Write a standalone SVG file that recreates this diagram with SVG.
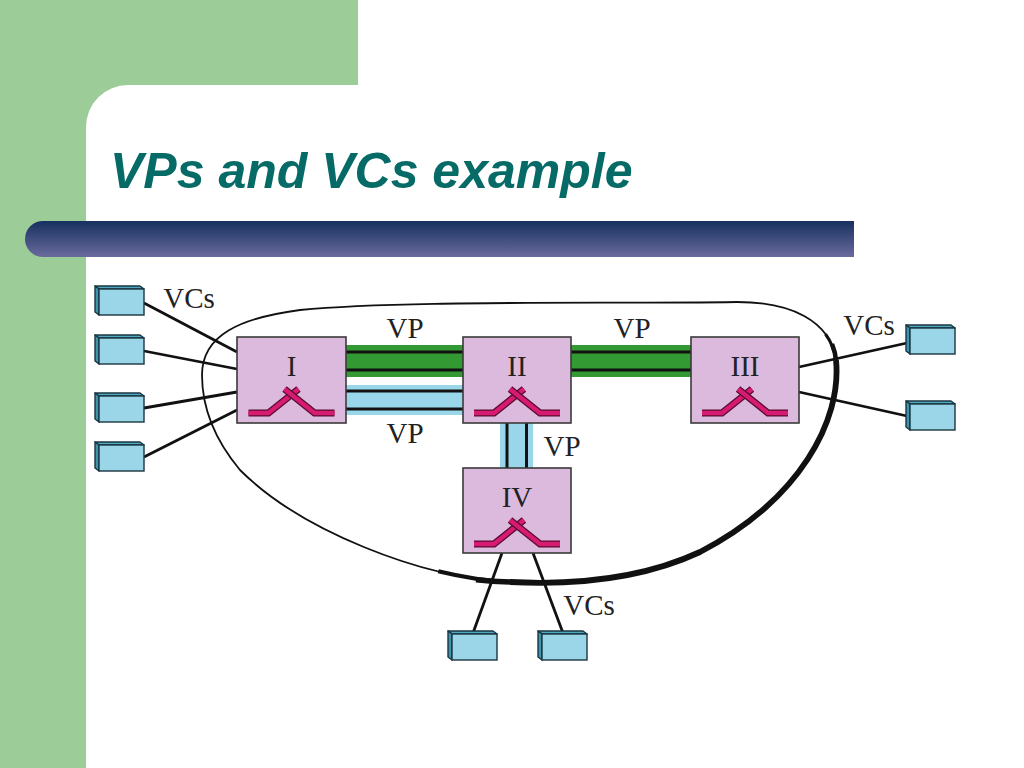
<svg xmlns="http://www.w3.org/2000/svg" xmlns:xlink="http://www.w3.org/1999/xlink" width="1024" height="768" viewBox="0 0 1024 768">
<defs>
<linearGradient id="barGrad" x1="0" y1="0" x2="0" y2="1">
<stop offset="0" stop-color="#16305f"/>
<stop offset="1" stop-color="#6a6b9d"/>
</linearGradient>
<g id="term">
<path d="M-4,-3 L41,-3 L45,0 L0,0 Z" fill="#4fa8c2" stroke="#1a3640" stroke-width="1.4" stroke-linejoin="round"/>
<path d="M-4,-3 L0,0 L0,26 L-4,23 Z" fill="#3f93ab" stroke="#1a3640" stroke-width="1.4" stroke-linejoin="round"/>
<rect x="0" y="0" width="45" height="26" fill="#9ad6e8" stroke="#1a3640" stroke-width="1.4"/>
</g>
<g id="sw">
<path d="M-43,0 H-23 L7,-24" class="swo"/>
<path d="M-43,0 H-23 L7,-24" class="swi"/>
<path d="M43,0 H23 L-7,-24" class="swo"/>
<path d="M43,0 H23 L-7,-24" class="swi"/>
</g>
</defs>
<style>
.box{fill:#dbbadd;stroke:#3a3a3a;stroke-width:1.6}
.swo{fill:none;stroke:#5a0c30;stroke-width:7;stroke-linejoin:miter}
.swi{fill:none;stroke:#d81b72;stroke-width:4.4;stroke-linejoin:miter}
.lbl{font-family:"Liberation Serif","Times New Roman",serif;font-size:29px;fill:#222;text-anchor:middle}
.wire{stroke:#111;stroke-width:2.8;fill:none}
.vpl{stroke:#111;stroke-width:3}
.cl{fill:none;stroke:#111}
</style>
<rect x="0" y="0" width="1024" height="768" fill="#ffffff"/>
<rect x="0" y="0" width="358" height="140" fill="#9ccc97"/>
<rect x="0" y="0" width="86" height="768" fill="#9ccc97"/>
<rect x="86" y="85" width="1000" height="760" rx="42" ry="42" fill="#ffffff"/>
<path d="M43,221 H854 V257 H43 A18,18 0 0 1 43,221 Z" fill="url(#barGrad)"/>
<text x="110" y="188" font-family="'Liberation Sans',Arial,sans-serif" font-size="50" font-weight="bold" font-style="italic" fill="#066b66">VPs and VCs example</text>

<g id="cloud">
<path class="cl" stroke-width="1.8" d="M202,375 C202,335 240,318 300,310 C400,300 600,304 737,302 C790,302 830,320 836,360 C842,420 800,500 700,552 C640,580 570,585 510,582 C420,578 300,530 240,470 C215,440 202,410 202,375 Z"/>
<path class="cl" stroke-width="3.2" d="M825.5,334.1 C830.9,341.4 834.5,350 836,360"/>
<path class="cl" stroke-width="4.6" d="M832,344 C834,349 835.5,354 836,360"/>
<path class="cl" stroke-width="5.8" d="M836,360 C842,420 800,500 700,552 C640,580 570,585 510,582"/>
<path class="cl" stroke-width="4.2" d="M510,582 C487.5,581 463.1,577.25 438.3,571.2"/>
<path class="cl" stroke-width="5.4" d="M512,582 C500,581.7 488,581 476,579.7"/>
</g>

<g id="connectors">
<rect x="346" y="345" width="117" height="32" fill="#339933"/>
<line x1="346" y1="352" x2="463" y2="352" class="vpl"/>
<line x1="346" y1="370" x2="463" y2="370" class="vpl"/>
<rect x="571" y="345" width="120" height="32" fill="#339933"/>
<line x1="571" y1="352" x2="691" y2="352" class="vpl"/>
<line x1="571" y1="370" x2="691" y2="370" class="vpl"/>
<rect x="346" y="385" width="117" height="30" fill="#9ad6ea"/>
<line x1="346" y1="391" x2="463" y2="391" class="vpl"/>
<line x1="346" y1="409" x2="463" y2="409" class="vpl"/>
<rect x="500" y="423" width="33" height="45" fill="#9ad6ea"/>
<line x1="507" y1="423" x2="507" y2="468" class="vpl"/>
<line x1="526.5" y1="423" x2="526.5" y2="468" class="vpl"/>
<line x1="144" y1="303" x2="237" y2="352" class="wire"/>
<line x1="144" y1="351" x2="237" y2="369" class="wire"/>
<line x1="144" y1="408" x2="237" y2="392" class="wire"/>
<line x1="144" y1="457" x2="237" y2="410" class="wire"/>
<line x1="799" y1="367" x2="907" y2="343" class="wire"/>
<line x1="799" y1="392" x2="907" y2="416" class="wire"/>
<line x1="502" y1="553" x2="473" y2="633" class="wire"/>
<line x1="533" y1="553" x2="563" y2="633" class="wire"/>
<text x="405" y="338" class="lbl">VP</text>
<text x="632" y="338" class="lbl">VP</text>
<text x="405" y="443" class="lbl">VP</text>
<text x="562" y="456" class="lbl">VP</text>
<text x="189" y="308" class="lbl">VCs</text>
<text x="869" y="335" class="lbl">VCs</text>
<text x="589" y="615" class="lbl">VCs</text>
</g>

<g id="sw1">
<rect x="237" y="337" width="109" height="86" class="box"/>
<text x="291.5" y="376" class="lbl">I</text>
<use xlink:href="#sw" x="291.5" y="413"/>
</g>
<g id="sw2">
<rect x="463" y="337" width="108" height="86" class="box"/>
<text x="517" y="376" class="lbl">II</text>
<use xlink:href="#sw" x="517" y="413"/>
</g>
<g id="sw3">
<rect x="691" y="337" width="108" height="86" class="box"/>
<text x="745" y="376" class="lbl">III</text>
<use xlink:href="#sw" x="745" y="413"/>
</g>
<g id="sw4">
<rect x="463" y="468" width="108" height="85" class="box"/>
<text x="517" y="507" class="lbl">IV</text>
<use xlink:href="#sw" x="517" y="544"/>
</g>

<g id="t1"><use xlink:href="#term" x="99" y="289"/></g>
<g id="t2"><use xlink:href="#term" x="99" y="338"/></g>
<g id="t3"><use xlink:href="#term" x="99" y="396"/></g>
<g id="t4"><use xlink:href="#term" x="99" y="445"/></g>
<g id="t5"><use xlink:href="#term" x="910" y="328"/></g>
<g id="t6"><use xlink:href="#term" x="910" y="404"/></g>
<g id="t7"><use xlink:href="#term" x="452" y="634"/></g>
<g id="t8"><use xlink:href="#term" x="542" y="634"/></g>
</svg>
